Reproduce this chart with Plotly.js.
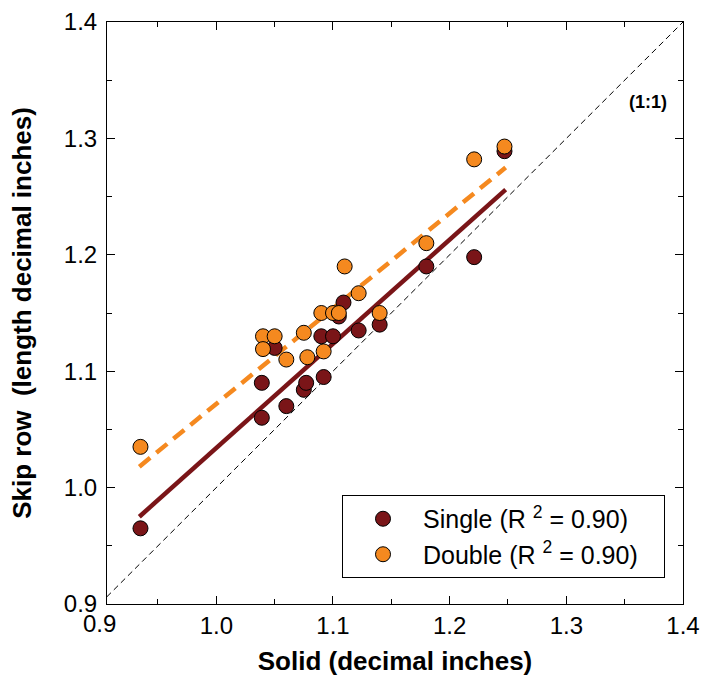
<!DOCTYPE html>
<html>
<head>
<meta charset="utf-8">
<script src="https://cdn.plot.ly/plotly-3.0.1.min.js"></script>
<style>html,body{margin:0;padding:0;background:#fff;}#chart{width:705px;height:682px;}</style>
</head>
<body>
<div id="chart"></div>
<script>
// Single (skip row) data
const singleX = [0.935, 1.039, 1.039, 1.050, 1.060, 1.075, 1.077, 1.092, 1.090, 1.100, 1.105, 1.109, 1.122, 1.140, 1.180, 1.221, 1.247];
const singleY = [0.965, 1.060, 1.090, 1.120, 1.070, 1.084, 1.090, 1.095, 1.130, 1.130, 1.147, 1.159, 1.135, 1.140, 1.190, 1.198, 1.289];
// Double (skip row) data
const doubleX = [0.935, 1.040, 1.050, 1.040, 1.060, 1.075, 1.078, 1.090, 1.092, 1.100, 1.105, 1.110, 1.122, 1.140, 1.180, 1.221, 1.247];
const doubleY = [1.035, 1.130, 1.130, 1.119, 1.110, 1.133, 1.112, 1.150, 1.117, 1.150, 1.150, 1.190, 1.167, 1.150, 1.210, 1.282, 1.293];
// Regression line end points
const fitX = [0.934, 1.248];
const singleFitY = [0.975, 1.256];
const doubleFitY = [1.018, 1.275];
// 1:1 reference
const refXY = [0.9, 1.4];
const tickVals = [0.9, 1.0, 1.1, 1.2, 1.3, 1.4];
const tickText = ['0.9', '1.0', '1.1', '1.2', '1.3', '1.4'];

const red = '#7a1518';
const orange = '#f5891f';
const FONT = 'Liberation Sans, Arial, sans-serif';

const traces = [
  {x: refXY, y: refXY, mode: 'lines', line: {color: '#000', width: 1, dash: '6px,4px'}, showlegend: false, hoverinfo: 'skip'},
  {x: fitX, y: doubleFitY, mode: 'lines', line: {color: orange, width: 4.5, dash: '14px,8px'}, showlegend: false},
  {x: fitX, y: singleFitY, mode: 'lines', line: {color: red, width: 4.5}, showlegend: false},
  {x: singleX, y: singleY, mode: 'markers', name: 'Single (R <sup>2</sup> = 0.90)\u00a0\u00a0\u00a0',
   marker: {color: red, size: 15, line: {color: '#000', width: 1}}},
  {x: doubleX, y: doubleY, mode: 'markers', name: 'Double (R <sup>2</sup> = 0.90)\u00a0\u00a0\u00a0',
   marker: {color: orange, size: 15, line: {color: '#000', width: 1}}}
];

const axisCommon = {
  showgrid: false, zeroline: false, showline: true, linecolor: '#000', linewidth: 1,
  mirror: 'ticks', ticks: 'inside', ticklen: 8, tickcolor: '#000', tickwidth: 1,
  tickvals: tickVals, ticktext: tickText,
  tickfont: {family: FONT, size: 24, color: '#000'},
  minor: {dtick: 0.05, tick0: 0.9, ticks: 'inside', ticklen: 5, tickcolor: '#000', tickwidth: 1}
};

const layout = {
  width: 705, height: 682,
  margin: {l: 107, r: 22, t: 22, b: 78},
  paper_bgcolor: '#fff', plot_bgcolor: '#fff',
  font: {family: FONT, color: '#000'},
  xaxis: Object.assign({}, axisCommon, {
    range: [0.9063, 1.4],
    ticklabelstandoff: 0,
    title: {text: '<b>Solid (decimal inches)</b>', font: {family: FONT, size: 26, color: '#000'}, standoff: 14}
  }),
  yaxis: Object.assign({}, axisCommon, {
    range: [0.9, 1.4],
    ticklabelstandoff: 4,
    title: {text: '<b>Skip row\u00a0\u00a0(length decimal inches)</b>', font: {family: FONT, size: 26, color: '#000'}, standoff: 24}
  }),
  legend: {
    x: 0.408, y: 0.116, xanchor: 'left', yanchor: 'middle',
    bordercolor: '#000', borderwidth: 1, bgcolor: '#fff',
    font: {family: FONT, size: 25, color: '#000'},
    itemwidth: 70,
    tracegroupgap: 0
  },
  annotations: [
    {xref: 'paper', yref: 'paper', x: -0.0127, y: 0, yanchor: 'top', xanchor: 'center', yshift: -4,
     text: '0.9', showarrow: false, font: {family: FONT, size: 24, color: '#000'}},
    {xref: 'paper', yref: 'paper', x: 0.94, y: 0.862, xanchor: 'center', yanchor: 'middle',
     text: '<b>(1:1)</b>', showarrow: false, font: {family: FONT, size: 18, color: '#000'}}
  ]
};

Plotly.newPlot('chart', traces, layout, {displayModeBar: false, staticPlot: true});
</script>
</body>
</html>
